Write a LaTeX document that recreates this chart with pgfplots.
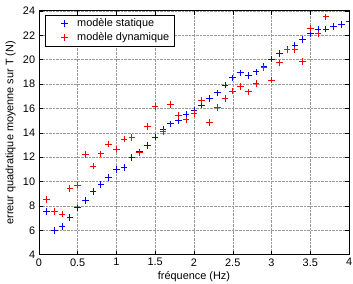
\documentclass[border=0pt]{standalone}
\usepackage{fontspec}
\setmainfont{Liberation Sans}
\usepackage{pgfplots}
\pgfplotsset{compat=1.18}
\pgfplotsset{
  crossplot/.style={
    draw=none, mark=none,
    error bars/x dir=both, error bars/x fixed=0.042,
    error bars/y dir=both, error bars/y fixed=0.268,
    error bars/error mark=none,
    error bars/error bar style={draw=#1, line width=0.95pt, solid},
    legend image code/.code={\path (0pt,0pt) (27pt,0pt);
      \draw[draw=#1, line width=0.95pt, solid] (12.7pt,0pt) -- (19.3pt,0pt) (16pt,-3.3pt) -- (16pt,3.3pt);},
  },
}
\begin{document}
\fontsize{11}{13}\selectfont
\begin{tikzpicture}
\begin{axis}[
  name=ax,
  scale only axis,
  width=313pt, height=246pt,
  xmin=0, xmax=4, ymin=4, ymax=24,
  xtick={0,0.5,...,4}, ytick={4,6,...,24},
  xticklabels={0,0.5,1,1.5,2,2.5,3,3.5,4},
  /pgf/number format/assume math mode=true,
  tick align=inside,
  major tick length=4pt,
  tick style={black, line width=0.5pt},
  axis line style={black, line width=0.8pt},
  grid=major,
  major grid style={densely dotted, gray!80, line width=0.5pt},
  xlabel={fréquence (Hz)},
  ylabel={erreur quadratique moyenne sur T (N)},
  xlabel style={yshift=2pt},
  ylabel style={yshift=0pt},
  tick label style={font=\fontsize{11}{13}\selectfont},
  label style={font=\fontsize{11}{13}\selectfont},
  legend style={at={(0.02,0.985)}, anchor=north west, draw=black, line width=0.8pt,
    font=\fontsize{11}{13}\selectfont},
  legend cell align=left,
]
\addplot[crossplot=blue] coordinates {
(0.1,7.54) (0.2,6.0) (0.3,6.32) (0.4,7.03) (0.5,7.84) (0.6,8.43) (0.7,9.16) (0.8,9.76)
(0.9,10.35) (1.0,10.97) (1.1,11.16) (1.2,11.95) (1.3,12.43) (1.4,12.97) (1.5,13.65)
(1.6,14.3) (1.7,14.73) (1.8,15.0) (1.9,15.49) (2.0,15.82) (2.1,16.27) (2.2,16.81)
(2.3,17.27) (2.4,17.92) (2.5,18.51) (2.6,18.92) (2.7,18.70) (2.8,19.0) (2.9,19.43)
(3.0,20.05) (3.1,20.51) (3.2,20.86) (3.3,21.14) (3.4,21.65) (3.5,22.16) (3.6,22.49)
(3.7,22.51) (3.8,22.7) (3.9,22.89) (4.0,23.1)
};
\addlegendentry{modèle statique}
\addplot[crossplot=red] coordinates {
(0.1,8.54) (0.2,7.54) (0.3,7.32) (0.4,9.41) (0.5,9.70) (0.6,12.22) (0.7,11.27) (0.8,12.27)
(0.9,13.08) (1.0,12.65) (1.1,13.49) (1.2,13.59) (1.3,12.35) (1.4,14.5) (1.5,16.17)
(1.6,14.08) (1.7,16.32) (1.8,15.43) (1.9,15.05) (2.0,15.6) (2.1,16.68) (2.2,14.84)
(2.3,16.08) (2.4,16.81) (2.5,17.41) (2.6,17.81) (2.7,17.35) (2.8,18.03) (2.9,19.32)
(3.0,18.32) (3.1,19.73) (3.2,20.81) (3.3,20.81) (3.4,19.84) (3.5,22.54) (3.6,22.11)
(3.7,23.51)
};
\addlegendentry{modèle dynamique}
\end{axis}
\pgfresetboundingbox
\path ([shift={(-39.3pt,-29pt)}]ax.south west) rectangle ([shift={(4pt,11pt)}]ax.north east);
\end{tikzpicture}
\end{document}
